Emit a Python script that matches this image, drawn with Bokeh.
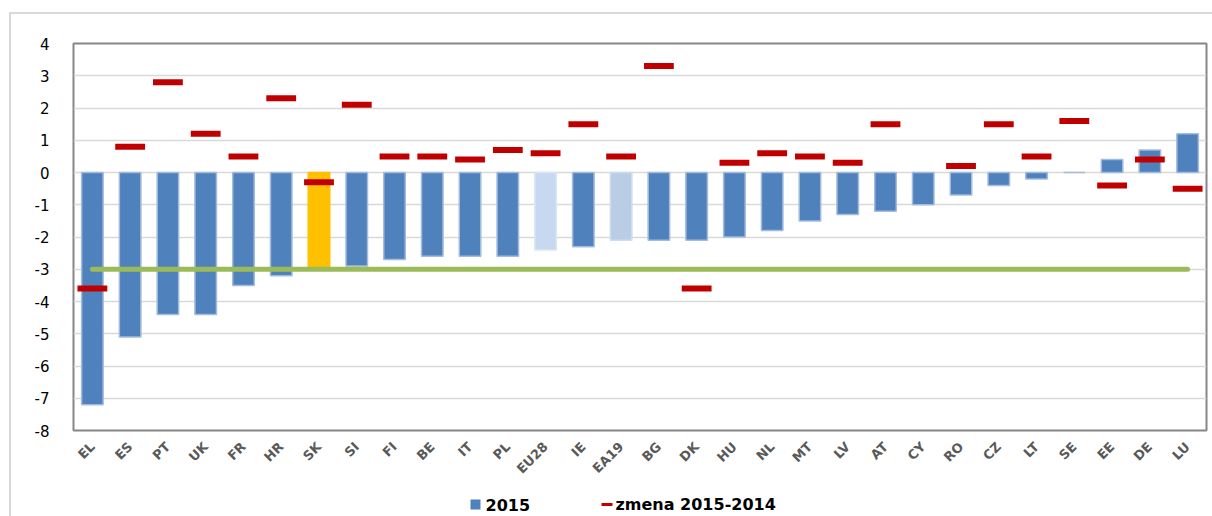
from bokeh.plotting import figure
from bokeh.layouts import column
from bokeh.models import (ColumnDataSource, FactorRange, Range1d, FixedTicker,
                          CustomJSTickFormatter, InlineStyleSheet)
from bokeh.core.properties import value
from bokeh.embed import file_html
from bokeh.resources import INLINE
import math

# ---- data ----
categories = ["EL", "ES", "PT", "UK", "FR", "HR", "SK", "SI", "FI", "BE", "IT", "PL",
              "EU28", "IE", "EA19", "BG", "DK", "HU", "NL", "MT", "LV", "AT", "CY",
              "RO", "CZ", "LT", "SE", "EE", "DE", "LU"]
values_2015 = [-7.2, -5.1, -4.4, -4.4, -3.5, -3.2, -3.0, -2.9, -2.7, -2.6, -2.6, -2.6,
               -2.4, -2.3, -2.1, -2.1, -2.1, -2.0, -1.8, -1.5, -1.3, -1.2, -1.0,
               -0.7, -0.4, -0.2, 0.0, 0.4, 0.7, 1.2]
zmena_2015_2014 = [-3.6, 0.8, 2.8, 1.2, 0.5, 2.3, -0.3, 2.1, 0.5, 0.5, 0.4, 0.7,
                   0.6, 1.5, 0.5, 3.3, -3.6, 0.3, 0.6, 0.5, 0.3, 1.5, float("nan"),
                   0.2, 1.5, 0.5, 1.6, -0.4, 0.4, -0.5]
bar_colors = ["#4F81BD"] * 6 + ["#FFC000"] + ["#4F81BD"] * 5 + ["#C6D9F0", "#4F81BD",
              "#B9CDE5"] + ["#4F81BD"] * 15
bar_line_colors = ["#A3BCDD"] * 6 + ["#FFC000"] + ["#A3BCDD"] * 5 + ["#DCE6F2", "#A3BCDD",
                   "#D0DDEE"] + ["#A3BCDD"] * 15
limit_x = ["EL", "LU"]
limit_y = [-3.0, -3.0]
y_ticks = [-8, -7, -6, -5, -4, -3, -2, -1, 0, 1, 2, 3, 4]
legend_labels = ["2015", "zmena 2015-2014"]
legend_colors = ["#4F81BD", "#C00000"]

src = ColumnDataSource(dict(cat=categories, v=values_2015, z=zmena_2015_2014,
                            fc=bar_colors, lc=bar_line_colors))

p = figure(width=1212, height=490, x_range=FactorRange(*categories, range_padding=0),
           y_range=Range1d(-8, 4), output_backend="svg", toolbar_location=None,
           min_border_left=73, min_border_right=6, min_border_top=43, min_border_bottom=60)
p.x_range.factor_padding = 0
p.background_fill_color = "white"
p.border_fill_color = "white"
p.outline_line_color = "#868686"
p.outline_line_width = 2

# outer chart-area frame (light grey, top and left edges visible)
p.stylesheets = [InlineStyleSheet(css=""":host::after { content: ''; position: absolute;
  left: 9px; top: 12px; right: 0px; bottom: 0px; border-left: 2px solid #D9D9D9;
  border-top: 2px solid #D9D9D9; pointer-events: none; }""")]

# grid
p.xgrid.grid_line_color = None
p.ygrid.grid_line_color = "#D9D9D9"
p.ygrid.grid_line_width = 1.5
p.yaxis.ticker = FixedTicker(ticks=y_ticks)
p.yaxis.formatter = CustomJSTickFormatter(code="return String(tick);")

# axes
for ax in (p.xaxis, p.yaxis):
    ax.axis_line_color = None
    ax.major_tick_line_color = None
    ax.minor_tick_line_color = None
p.yaxis.major_label_standoff = 18
p.yaxis.major_label_text_font = "DejaVu Sans"
p.yaxis.major_label_text_font_size = "15px"
p.yaxis.major_label_text_color = "black"
p.xaxis.major_label_orientation = math.pi / 4
p.xaxis.major_label_standoff = 8
p.xaxis.major_label_text_font = "DejaVu Sans"
p.xaxis.major_label_text_font_style = "bold"
p.xaxis.major_label_text_font_size = "13px"
p.xaxis.major_label_text_color = "#595959"

# bars
p.vbar(x="cat", top="v", bottom=0, width=0.57, source=src,
       fill_color="fc", line_color="lc", line_width=1.5)
# -3 reference line
p.line(x=limit_x, y=limit_y, line_color="#9BBB59", line_width=5, line_cap="round")
# change markers
p.rect(x="cat", y="z", width=0.79, height=6, height_units="screen", source=src,
       fill_color="#C00000", line_color=None)

# ---- legend strip below the chart (frame aligned with the chart frame) ----
lg = figure(width=1212, height=26, x_range=Range1d(73, 1206), y_range=Range1d(0, 26),
            output_backend="svg", toolbar_location=None, min_border=0,
            min_border_left=73, min_border_right=6,
            x_axis_location=None, y_axis_location=None)
lg.outline_line_color = None
lg.xgrid.grid_line_color = None
lg.ygrid.grid_line_color = None
lg.background_fill_color = "white"
lg.border_fill_color = "white"
lg.stylesheets = [InlineStyleSheet(css=""":host::after { content: ''; position: absolute;
  left: 9px; top: 0px; bottom: 0px; border-left: 2px solid #D9D9D9; pointer-events: none; }""")]

lg.rect(x=[475], y=[12], width=10, height=10, fill_color=legend_colors[0], line_color=None)
lg.rect(x=[606.5], y=[12], width=11, height=3, fill_color=legend_colors[1], line_color=None)
lg.text(x=[485, 615], y=[12, 12], text=legend_labels, text_font=value("DejaVu Sans"),
        text_font_style="bold", text_font_size="16px", text_color="black",
        text_baseline="middle", text_align="left")

layout = column(p, lg, spacing=0)
open("out.html", "w").write(file_html(layout, INLINE))
